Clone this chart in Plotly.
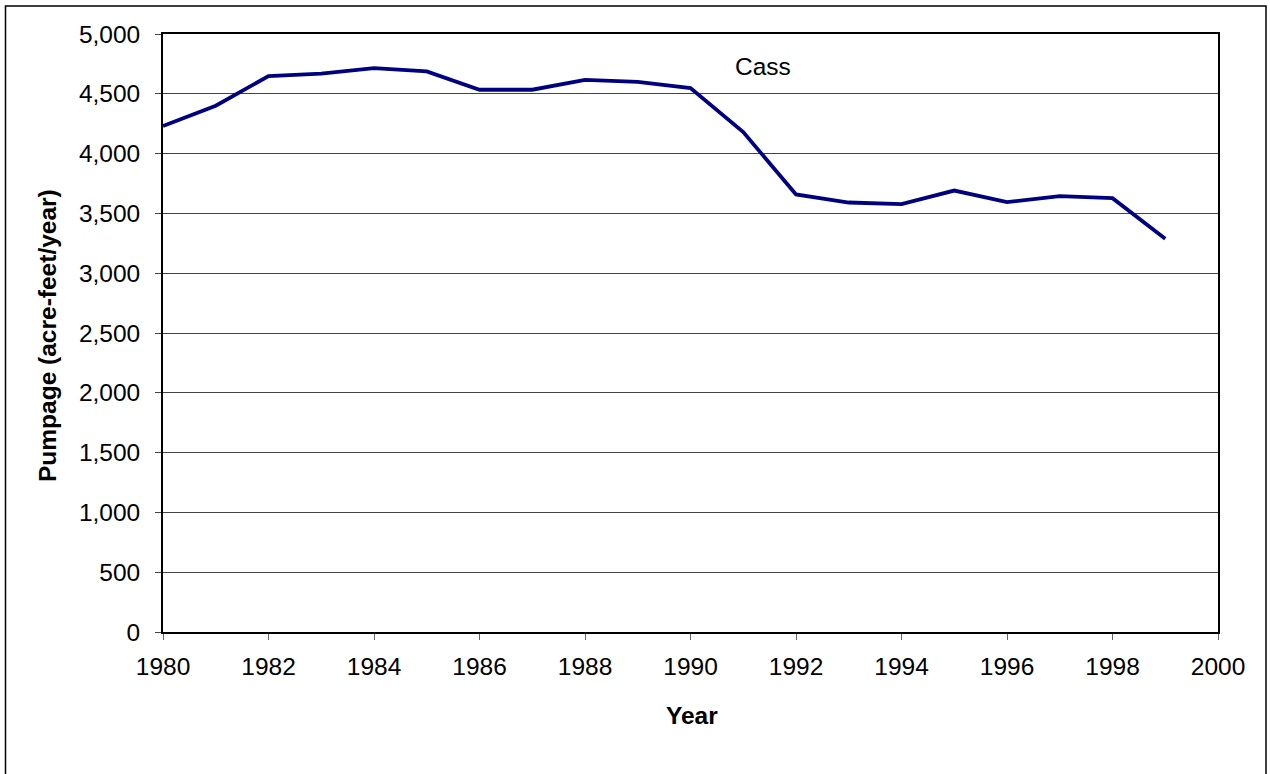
import plotly.graph_objects as go

years = list(range(1980, 2000))
pumpage = [4230, 4400, 4648, 4668, 4715, 4687, 4534, 4534, 4617, 4600,
           4548, 4180, 3658, 3591, 3577, 3691, 3594, 3644, 3627, 3287]
y_ticks = [0, 500, 1000, 1500, 2000, 2500, 3000, 3500, 4000, 4500, 5000]
x_ticks = list(range(1980, 2001, 2))

FONT = "Liberation Sans, Arial, sans-serif"
FS = 24.5

W, H = 1270, 774
L, R, T, B = 163, 52, 34, 142
PW, PH = W - L - R, H - T - B


def px(x):
    return (x - L) / PW


def py(y):
    return (H - B - y) / PH


fig = go.Figure()
fig.add_trace(go.Scatter(x=years, y=pumpage, mode="lines",
                         line=dict(color="#000080", width=3.8),
                         showlegend=False))

fig.update_layout(
    width=W, height=H,
    margin=dict(l=L, r=R, t=T, b=B),
    paper_bgcolor="white", plot_bgcolor="white",
    font=dict(family=FONT, size=FS, color="black"),
    xaxis=dict(range=[1980, 2000], tickvals=x_ticks, showgrid=False,
               zeroline=False, showline=True, linecolor="black", linewidth=1.8,
               mirror=True, ticks="outside", ticklen=6, tickcolor="#666",
               ticklabelstandoff=6,
               tickfont=dict(family=FONT, size=FS)),
    yaxis=dict(range=[0, 5000], tickvals=y_ticks, tickformat=",d",
               showgrid=True, gridcolor="#444", gridwidth=1,
               zeroline=False, showline=True, linecolor="black", linewidth=1.8,
               mirror=True, ticks="outside", ticklen=6, tickcolor="#444",
               ticklabelstandoff=10,
               tickfont=dict(family=FONT, size=FS)),
    annotations=[
        dict(text="Cass", x=px(763), y=py(67), xref="paper", yref="paper",
             xanchor="center", yanchor="middle",
             showarrow=False, font=dict(family=FONT, size=FS)),
        dict(text="<b>Year</b>", x=px(692), y=py(715),
             xref="paper", yref="paper", xanchor="center", yanchor="middle",
             showarrow=False, font=dict(family=FONT, size=FS)),
        dict(text="<b>Pumpage (acre-feet/year)</b>", x=px(47),
             y=py(336), xref="paper", yref="paper",
             xanchor="center", yanchor="middle", showarrow=False,
             textangle=-90, font=dict(family=FONT, size=FS)),
    ],
    shapes=[
        dict(type="rect", xref="paper", yref="paper",
             x0=px(5.5), x1=px(1266),
             y0=py(790), y1=py(6),
             line=dict(color="black", width=1.5)),
    ],
)

fig.write_html(
    "out.html",
    config={"displayModeBar": False},
    post_script="document.body.style.margin='0';document.body.style.overflow='hidden';",
)
